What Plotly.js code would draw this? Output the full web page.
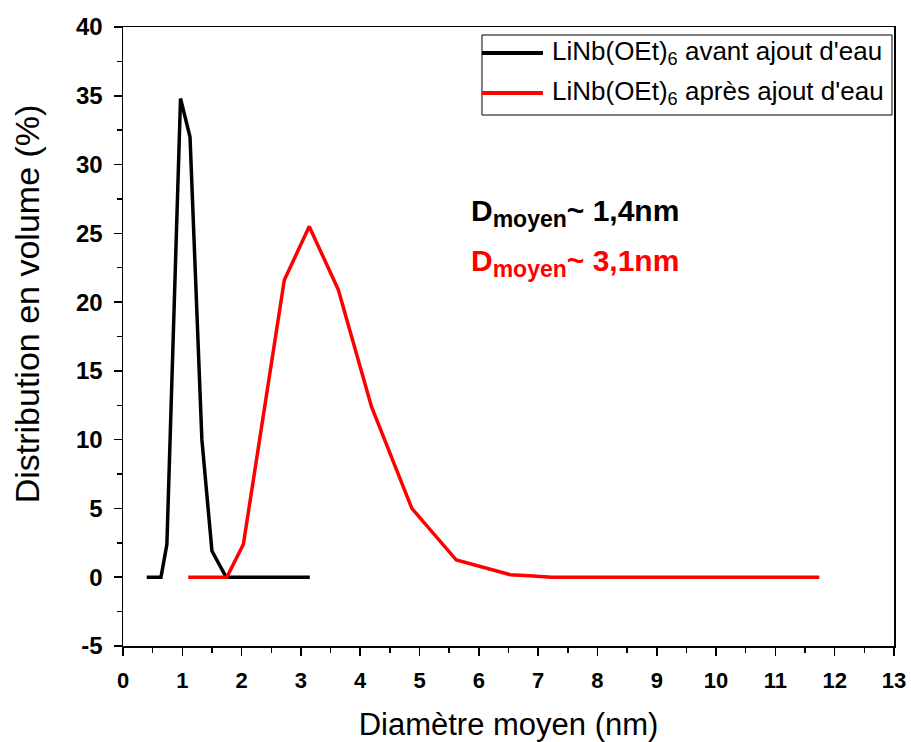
<!DOCTYPE html>
<html>
<head>
<meta charset="utf-8">
<script src="https://cdn.plot.ly/plotly-3.0.1.min.js"></script>
<style>html,body{margin:0;padding:0;background:#fff;}#chart{width:911px;height:742px;}</style>
</head>
<body>
<div id="chart"></div>
<script>
// Data
const avantName = "LiNb(OEt)<sub>6</sub> avant ajout d'eau";
const apresName = "LiNb(OEt)<sub>6</sub> après ajout d'eau";
const avantX = [0.40, 0.64, 0.74, 0.97, 1.13, 1.33, 1.50, 1.74, 2.2, 2.7, 3.15];
const avantY = [0, 0, 2.4, 34.8, 32.0, 10.0, 1.9, 0, 0, 0, 0];
const apresX = [1.10, 1.75, 2.03, 2.72, 3.14, 3.63, 4.19, 4.87, 5.62, 6.53, 6.85, 7.23, 8.0, 9.0, 10.0, 11.0, 11.74];
const apresY = [0, 0, 2.4, 21.6, 25.5, 20.9, 12.4, 5.0, 1.25, 0.18, 0.1, 0, 0, 0, 0, 0, 0];
const yTickVals = [-5, 0, 5, 10, 15, 20, 25, 30, 35, 40];
const yTickText = ["-5", "0", "5", "10", "15", "20", "25", "30", "35", "40"];
const xTitle = "Diamètre moyen (nm)";
const yTitle = "Distribution en volume (%)";
const dAvant = "D<sub><span style='font-size:23px'>moyen</span></sub>~ 1,4nm";
const dApres = "D<sub><span style='font-size:23px'>moyen</span></sub>~ 3,1nm";

const FONT = "Arial, 'Liberation Sans', sans-serif";
const traces = [
  {x: avantX, y: avantY, type: 'scatter', mode: 'lines', name: avantName, showlegend: false,
   line: {color: '#000000', width: 3.5}},
  {x: apresX, y: apresY, type: 'scatter', mode: 'lines', name: apresName, showlegend: false,
   line: {color: '#ff0000', width: 3.5}}
];

// custom legend geometry (paper coords)
const lgX0 = 0.4656, lgX1 = 0.9974, lgY0 = 0.8578, lgY1 = 0.9871;
const row1 = 0.958, row2 = 0.8934, lineX0 = 0.4656, lineX1 = 0.5447, txtX = 0.5538;

const layout = {
  width: 911, height: 742,
  margin: {l: 123, r: 17, t: 27, b: 96},
  paper_bgcolor: '#ffffff', plot_bgcolor: '#ffffff',
  font: {family: FONT, color: '#000'},
  showlegend: false,
  xaxis: {
    range: [0, 13], dtick: 1, tick0: 0, showgrid: false, zeroline: false,
    showline: true, linecolor: '#000', linewidth: 1.5, mirror: true,
    ticks: 'outside', ticklen: 8, tickwidth: 1.5, tickcolor: '#000',
    minor: {ticks: 'outside', dtick: 0.5, ticklen: 5, tickwidth: 1.5, tickcolor: '#000', showgrid: false},
    tickfont: {family: FONT, size: 22, weight: 'bold', color: '#000'},
    ticklabelstandoff: 6,
    title: {text: xTitle, font: {family: FONT, size: 31, color: '#000'}, standoff: 26},
    automargin: false
  },
  yaxis: {
    range: [-5, 40], tickmode: 'array', tickvals: yTickVals, ticktext: yTickText,
    showgrid: false, zeroline: false,
    showline: true, linecolor: '#000', linewidth: 1.5, mirror: true,
    ticks: 'outside', ticklen: 8, tickwidth: 1.5, tickcolor: '#000',
    minor: {ticks: 'outside', tick0: 0, dtick: 2.5, ticklen: 5, tickwidth: 1.5, tickcolor: '#000', showgrid: false},
    tickfont: {family: FONT, size: 24, weight: 'bold', color: '#000'},
    ticklabelstandoff: 6,
    automargin: false
  },
  shapes: [
    {type: 'rect', xref: 'paper', yref: 'paper', x0: lgX0, x1: lgX1, y0: lgY0, y1: lgY1,
     line: {color: '#000', width: 1}, fillcolor: '#ffffff', layer: 'above'},
    {type: 'line', xref: 'paper', yref: 'paper', x0: lineX0, x1: lineX1, y0: row1, y1: row1,
     line: {color: '#000', width: 4}},
    {type: 'line', xref: 'paper', yref: 'paper', x0: lineX0, x1: lineX1, y0: row2, y1: row2,
     line: {color: '#ff0000', width: 4}}
  ],
  annotations: [
    {xref: 'paper', yref: 'paper', x: txtX, y: row1, xanchor: 'left', yanchor: 'middle',
     text: avantName, showarrow: false, font: {family: FONT, size: 26, color: '#000'}},
    {xref: 'paper', yref: 'paper', x: txtX, y: row2, xanchor: 'left', yanchor: 'middle',
     text: apresName, showarrow: false, font: {family: FONT, size: 26, color: '#000'}},
    {xref: 'paper', yref: 'paper', x: -0.1245, y: 0.552, xanchor: 'center', yanchor: 'middle',
     textangle: -90, text: yTitle, showarrow: false, font: {family: FONT, size: 34, color: '#000'}},
    {xref: 'paper', yref: 'paper', x: 0.4488, y: 0.6995, xanchor: 'left', yanchor: 'middle',
     text: dAvant, showarrow: false, font: {family: FONT, size: 30, weight: 'bold', color: '#000'}},
    {xref: 'paper', yref: 'paper', x: 0.4488, y: 0.6187, xanchor: 'left', yanchor: 'middle',
     text: dApres, showarrow: false, font: {family: FONT, size: 30, weight: 'bold', color: '#ff0000'}}
  ]
};

Plotly.newPlot('chart', traces, layout, {displayModeBar: false, staticPlot: true});
</script>
</body>
</html>
